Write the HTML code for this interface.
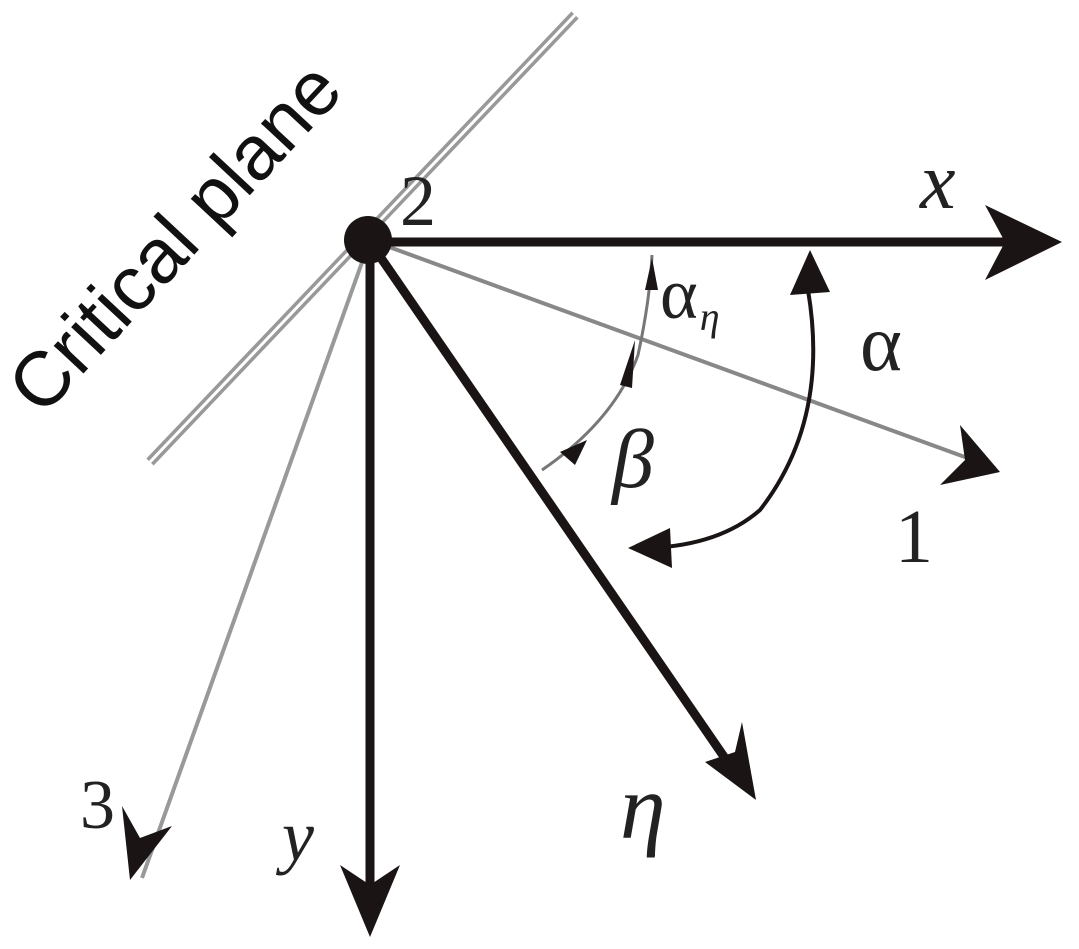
<!DOCTYPE html>
<html><head><style>
html,body{margin:0;padding:0;background:#fff;}
svg{display:block;}
text{font-family:"Liberation Serif",serif;fill:#222;}
</style></head><body>
<svg width="1079" height="949" viewBox="0 0 1079 949" xmlns="http://www.w3.org/2000/svg">
<line x1="150" y1="462" x2="575" y2="15" stroke="#999" stroke-width="10"/>
<line x1="150" y1="462" x2="575" y2="15" stroke="#fff" stroke-width="3"/>
<line x1="370" y1="240" x2="995" y2="468" stroke="#888" stroke-width="4"/>
<line x1="370" y1="240" x2="142" y2="878" stroke="#999" stroke-width="4"/>
<line x1="370" y1="242" x2="1040" y2="242" stroke="#1a1414" stroke-width="9"/>
<line x1="370" y1="242" x2="370" y2="915" stroke="#1a1414" stroke-width="9"/>
<line x1="370" y1="242" x2="740" y2="780" stroke="#1a1414" stroke-width="9"/>
<circle cx="368" cy="240" r="24" fill="#1a1414"/>
<polygon points="1062,242 985,205 1005,242 985,280" fill="#1a1414"/>
<polygon points="370,937 340,865 370,885 400,865" fill="#1a1414"/>
<polygon points="756,800 742,722 735,752 705,762" fill="#1a1414"/>
<polygon points="1000,472 960,425 965,460 940,485" fill="#1a1414"/>
<polygon points="130,880 122,806 140,838 172,826" fill="#1a1414"/>
<path d="M652 255 Q650 300 638 355 Q615 420 542 470" fill="none" stroke="#777" stroke-width="3"/>
<polygon points="652,258 645,290 658,290" fill="#1a1414"/>
<polygon points="635,340 620,385 632,388" fill="#1a1414"/>
<polygon points="560,452 587,440 575,465" fill="#1a1414"/>
<path d="M808 290 Q830 420 760 510 Q720 545 650 548" fill="none" stroke="#1a1414" stroke-width="4"/>
<polygon points="810,250 790,295 830,292" fill="#1a1414"/>
<polygon points="628,548 670,528 672,568" fill="#1a1414"/>
<text x="42" y="418" font-size="77" transform="rotate(-47 42 418)" style="font-family:'Liberation Sans',sans-serif;fill:#111">Critical plane</text>
<text x="400" y="225" font-size="72">2</text>
<text x="920" y="208" font-size="80" font-style="italic">x</text>
<text x="660" y="318" font-size="72">α<tspan font-size="40" font-style="italic" dx="2" dy="12">η</tspan></text>
<text x="860" y="370" font-size="80">α</text>
<text x="612" y="487" font-size="84" font-style="italic">β</text>
<text x="895" y="562" font-size="76">1</text>
<text x="80" y="828" font-size="70">3</text>
<text x="282" y="860" font-size="72" font-style="italic">y</text>
<text x="620" y="838" font-size="92" font-style="italic">η</text>
</svg>
</body></html>
